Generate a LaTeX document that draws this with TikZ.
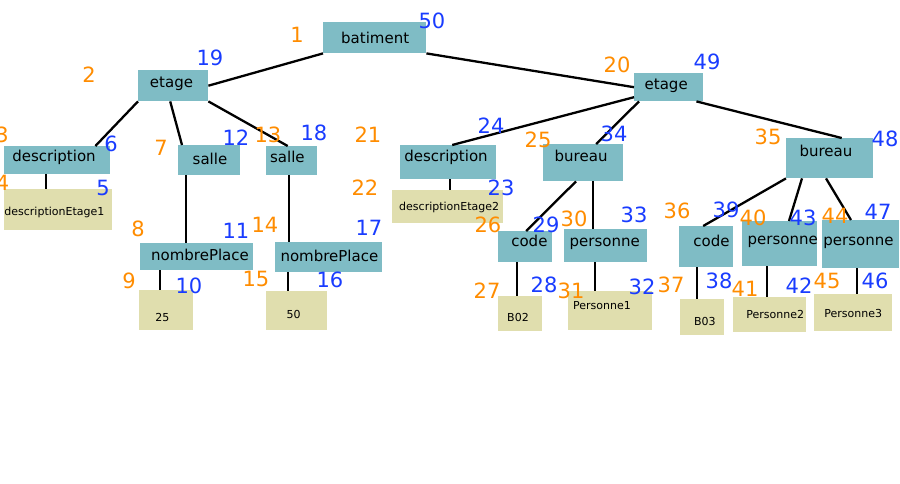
\documentclass[tikz,border=0pt]{standalone}
\usepackage{fontspec}
\setmainfont{DejaVu Sans}
\definecolor{mteal}{RGB}{127,188,197}
\definecolor{mbeige}{RGB}{224,222,174}
\definecolor{morange}{RGB}{255,140,0}
\definecolor{mblue}{RGB}{25,60,255}
% text inside a box, moved by dx and raised by dy (in pt)
\newcommand{\placetext}[3]{\raisebox{#2pt}{\makebox[0pt]{\hspace*{#1pt}#3\hspace*{-#1pt}}}}
\tikzset{
  inner/.style={fill=mteal, anchor=north west, inner sep=0pt, text height=11pt, text depth=0pt,
    font=\fontsize{15pt}{18pt}\selectfont},
  leaf/.style={fill=mbeige, anchor=north west, inner sep=0pt, text height=8pt, text depth=0pt,
    font=\fontsize{11pt}{13pt}\selectfont},
  pre/.style={text=morange, inner sep=0pt, font=\fontsize{21pt}{24pt}\selectfont},
  post/.style={pre, text=mblue},
  edge/.style={line width=2.3pt}
}

\begin{document}
\begin{tikzpicture}[x=1pt, y=-1pt]
  \useasboundingbox (0,0) rectangle (900,484);

  % element nodes
  \node[inner, minimum width=103, minimum height=31] (bat) at (323,22) {\placetext{0.5}{0}{batiment}};
  \node[inner, minimum width=70, minimum height=31] (etageA) at (138,70) {\placetext{-1.7}{3.5}{etage}};
  \node[inner, minimum width=106, minimum height=27.5] (descA) at (4,146) {\placetext{-3.2}{3.7}{description}};
  \node[inner, minimum width=62, minimum height=29.5] (salleA) at (178,145) {\placetext{0.8}{1.2}{salle}};
  \node[inner, minimum width=51, minimum height=28.5] (salleB) at (266,146) {\placetext{-4.3}{3.7}{salle}};
  \node[inner, minimum width=113, minimum height=27] (npA) at (140,243) {\placetext{3.3}{2}{nombrePlace}};
  \node[inner, minimum width=107, minimum height=30] (npB) at (275,242) {\placetext{0.7}{0.8}{nombrePlace}};
  \node[inner, minimum width=69, minimum height=28] (etageB) at (634,73) {\placetext{-2.5}{3.2}{etage}};
  \node[inner, minimum width=96, minimum height=34] (descB) at (400,145) {\placetext{-2.2}{6.6}{description}};
  \node[inner, minimum width=80, minimum height=37] (burA) at (543,144) {\placetext{-2.1}{6.3}{bureau}};
  \node[inner, minimum width=87, minimum height=40] (burB) at (786,138) {\placetext{-3.8}{7.5}{bureau}};
  \node[inner, minimum width=54, minimum height=31] (codeA) at (498,231) {\placetext{4.2}{6.1}{code}};
  \node[inner, minimum width=83, minimum height=33] (persA) at (564,229) {\placetext{-1}{4.8}{personne}};
  \node[inner, minimum width=54, minimum height=41] (codeB) at (679,226) {\placetext{5.3}{6.1}{code}};
  \node[inner, minimum width=75, minimum height=45] (persB) at (742,221) {\placetext{3}{4.4}{personne}};
  \node[inner, minimum width=77, minimum height=48] (persC) at (822,220) {\placetext{-2.2}{4.5}{personne}};

  % text leaves
  \node[leaf, minimum width=108, minimum height=40.5] (lfDescA) at (4,189) {\placetext{-3.8}{-2.1}{descriptionEtage1}};
  \node[leaf, minimum width=54, minimum height=40] (lf25) at (139,290) {\placetext{-3.8}{-7}{25}};
  \node[leaf, minimum width=61, minimum height=39] (lf50) at (266,291) {\placetext{-3}{-3.8}{50}};
  \node[leaf, minimum width=111, minimum height=32.5] (lfDescB) at (392,190) {\placetext{1.5}{0}{descriptionEtage2}};
  \node[leaf, minimum width=44, minimum height=35] (lfB02) at (498,296) {\placetext{-2.2}{-3.7}{B02}};
  \node[leaf, minimum width=84, minimum height=38.5] (lfP1) at (568,291) {\placetext{-8.2}{4.9}{Personne1}};
  \node[leaf, minimum width=44, minimum height=35.5] (lfB03) at (680,299) {\placetext{2.7}{-5}{B03}};
  \node[leaf, minimum width=73, minimum height=35] (lfP2) at (733,297) {\placetext{5.5}{0.5}{Personne2}};
  \node[leaf, minimum width=78, minimum height=37] (lfP3) at (814,294) {\placetext{0}{-0.4}{Personne3}};

  % tree edges
  \draw[edge] (bat.south west) -- (etageA.east);
  \draw[edge] (bat.south east) -- (etageB.west);
  \draw[edge] (etageA.south west) -- ([xshift=-15]descA.north east);
  \draw[edge] ([xshift=-3]etageA.south) -- ([xshift=4]salleA.north west);
  \draw[edge] (etageA.south east) -- ([xshift=-4]salleB.north);
  \draw[edge] ([xshift=42]descA.south west) -- ([xshift=42]lfDescA.north west);
  \draw[edge] ([xshift=8]salleA.south west) -- ([xshift=46]npA.north west);
  \draw[edge] ([xshift=23]salleB.south west) -- ([xshift=14]npB.north west);
  \draw[edge] ([xshift=20]npA.south west) -- ([xshift=21]lf25.north west);
  \draw[edge] ([xshift=13]npB.south west) -- ([xshift=22]lf50.north west);
  \draw[edge] ([yshift=-10]etageB.west) -- ([xshift=4]descB.north);
  \draw[edge] ([xshift=5]etageB.south west) -- ([xshift=13]burA.north);
  \draw[edge] ([xshift=-7]etageB.south east) -- ([xshift=12]burB.north);
  \draw[edge] ([xshift=50]descB.south west) -- ([xshift=58]lfDescB.north west);
  \draw[edge] ([xshift=33]burA.south west) -- ([xshift=1]codeA.north);
  \draw[edge] ([xshift=50]burA.south west) -- ([xshift=29]persA.north west);
  \draw[edge] ([xshift=19]codeA.south west) -- ([xshift=19]lfB02.north west);
  \draw[edge] ([xshift=31]persA.south west) -- ([xshift=27]lfP1.north west);
  \draw[edge] (burB.south west) -- ([xshift=-3]codeB.north);
  \draw[edge] ([xshift=16]burB.south west) -- ([xshift=47]persB.north west);
  \draw[edge] ([xshift=40]burB.south west) -- ([xshift=29]persC.north west);
  \draw[edge] ([xshift=18]codeB.south west) -- ([xshift=17]lfB03.north west);
  \draw[edge] ([xshift=25]persB.south west) -- ([xshift=34]lfP2.north west);
  \draw[edge] ([xshift=35]persC.south west) -- ([xshift=43]lfP3.north west);

  % pre-order numbers
  \foreach \n/\x/\y in {1/297/35, 2/89/75, 3/2/135, 4/2.5/183, 7/161/148, 8/138/229, 9/129/281,
      13/268/135, 14/265/225, 15/256/279, 20/617/65, 21/368/135, 22/365/188, 25/538/140,
      26/488/225, 27/487/291, 30/574/219, 31/571/291, 35/768/137, 36/677/211, 37/671/285,
      40/753/218, 41/745/289, 44/835/216, 45/827/281}
    \node[pre] (n\n) at (\x,\y) {\n};
  % post-order numbers
  \foreach \n/\x/\y in {5/103/188, 6/111/144, 10/189/286, 11/236/231, 12/236/138, 16/330/280,
      17/369/228, 18/314/133, 19/210/58, 23/501/188, 24/491/126, 28/544/285, 29/546/225,
      32/642/287, 33/634/215, 34/614/134, 38/719/281, 39/726/210, 42/799/286, 43/803/218,
      46/875/281, 47/878/212, 48/885/139, 49/707/62, 50/432/21}
    \node[post] (n\n) at (\x,\y) {\n};
\end{tikzpicture}
\end{document}
